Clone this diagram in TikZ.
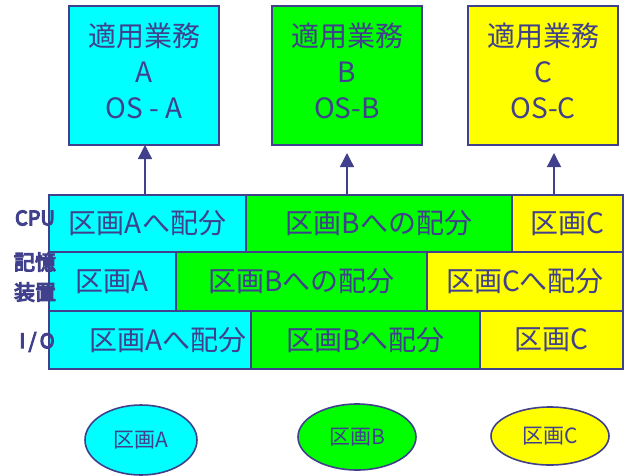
\documentclass[tikz,border=0pt]{standalone}
\usepackage{fontspec}
\setmainfont{Noto Sans CJK JP}
\newcommand\heavytxt[1]{\special{pdf:literal direct 2 Tr 1.1 w}#1\special{pdf:literal direct 0 Tr}}
\usetikzlibrary{arrows.meta,shapes.geometric}
\definecolor{ink}{RGB}{64,64,140}
\definecolor{cA}{RGB}{0,255,255}
\definecolor{cB}{RGB}{0,255,0}
\definecolor{cC}{RGB}{255,255,0}
\begin{document}
\begin{tikzpicture}[x=1pt,y=-1pt,
  box/.style={draw=ink,line width=2pt,inner sep=0pt,outer sep=0pt,text=ink},
  topbox/.style={box,minimum width=150pt,minimum height=139pt},
  toptext/.style={text=ink,font=\fontsize{28pt}{36pt}\selectfont,align=center,yshift=5pt},
  cell/.style={box,font=\fontsize{28pt}{30pt}\selectfont},
  rowlab/.style={text=ink,font=\fontsize{21pt}{30pt}\selectfont,align=center,inner sep=0pt},
  oval/.style={draw=ink,line width=1.6pt,ellipse,inner sep=0pt,text=ink,font=\fontsize{21pt}{21pt}\selectfont},
  arr/.style={draw=ink,line width=1.4pt,-{Triangle[length=14pt,width=14pt]}}]
\useasboundingbox (0,0) rectangle (626,475);
% top boxes
\node[topbox,fill=cA,label={[toptext]center:適用業務\\A\\OS - A}] (tA) at (144,75.5) {};
\node[topbox,fill=cB,label={[toptext]center:適用業務\\B\\OS-B}] (tB) at (347,75.5) {};
\node[topbox,fill=cC,label={[toptext]center:適用業務\\C\\OS-C}] (tC) at (543,75.5) {};
% row 1 (CPU)
\node[cell,fill=cA,minimum width=197pt,minimum height=57pt] (r1a) at (147.5,223.5) {区画Aへ配分};
\node[cell,fill=cB,minimum width=266pt,minimum height=57pt] (r1b) at (379,223.5) {区画Bへの配分};
\node[cell,fill=cC,minimum width=111pt,minimum height=57pt] (r1c) at (567.5,223.5) {区画C};
% row 2 (memory)
\node[cell,fill=cA,minimum width=127pt,minimum height=59pt] (r2a) at (112.5,281.5) {区画A};
\node[cell,fill=cB,minimum width=251pt,minimum height=59pt] (r2b) at (301.5,281.5) {区画Bへの配分};
\node[cell,fill=cC,minimum width=196pt,minimum height=59pt] (r2c) at (525,281.5) {区画Cへ配分};
% row 3 (I/O)
\node[cell,fill=cA,minimum width=202pt,minimum height=58pt,label={[text=ink,font=\fontsize{28pt}{30pt}\selectfont,xshift=18pt]center:区画Aへ配分}] (r3a) at (150,340) {};
\node[cell,fill=cB,minimum width=229pt,minimum height=58pt] (r3b) at (365.5,340) {区画Bへ配分};
\node[cell,fill=cC,minimum width=143pt,minimum height=58pt] (r3c) at (551.5,340) {区画C};
% row labels
\node[rowlab,font=\fontsize{20pt}{20pt}\selectfont] (lcpu) at (35,218) {\heavytxt{CPU}};
\node[rowlab] (lmem) at (35,277) {\heavytxt{記憶}\\\heavytxt{装置}};
\node[rowlab,font=\fontsize{20pt}{20pt}\selectfont] (lio) at (37,342) {\heavytxt{I\,/\,O}};
% arrows
\coordinate (sA) at (145,195);
\coordinate (sB) at (347,195);
\coordinate (sC) at (554,195);
\draw[arr] (sA) -- (sA |- tA.south);
\draw[arr,shorten >=8pt] (sB) -- (sB |- tB.south);
\draw[arr,shorten >=8pt] (sC) -- (sC |- tC.south);
% ellipses
\node[oval,fill=cA,minimum width=112pt,minimum height=70pt] (eA) at (141,440) {区画A};
\node[oval,fill=cB,minimum width=118pt,minimum height=66pt] (eB) at (357,437) {区画B};
\node[oval,fill=cC,minimum width=118pt,minimum height=58pt] (eC) at (550,436) {区画C};
\end{tikzpicture}
\end{document}
